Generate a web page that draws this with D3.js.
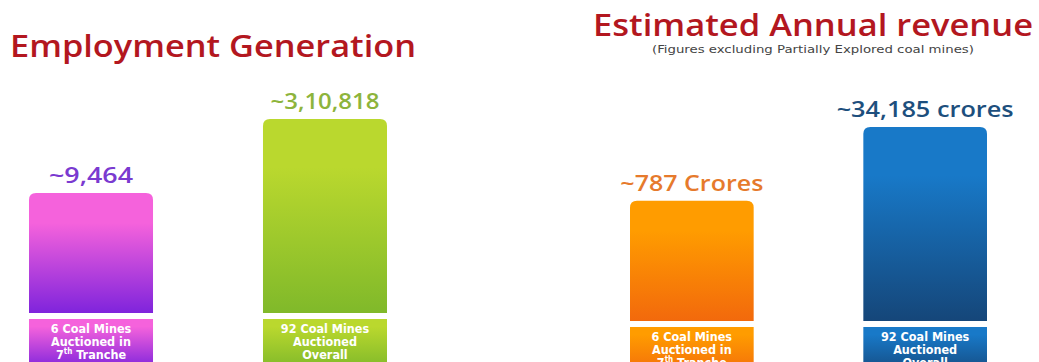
<!DOCTYPE html>
<html>
<head>
<meta charset="utf-8">
<script src="https://cdn.jsdelivr.net/npm/d3@7"></script>
<style>
  html, body { margin: 0; padding: 0; background: #ffffff; }
  svg { display: block; }
  text { font-family: "DejaVu Sans Condensed", "DejaVu Sans", sans-serif; }
  .heavy { font-family: "Open Sans", "DejaVu Sans", sans-serif; font-weight: 600; }
</style>
</head>
<body>
<svg id="chart" width="1039" height="362"></svg>
<script>
// ---- data ----
const categories = ["7th Tranche", "Overall"];
const categoryLines = [
  ["6 Coal Mines", "Auctioned in", "7|th| Tranche"],
  ["92 Coal Mines", "Auctioned", "Overall"]
];
const employmentValues = [9464, 310818];
const employmentLabels = ["~9,464", "~3,10,818"];
const revenueValues = [787, 34185];
const revenueLabels = ["~787 Crores", "~34,185 crores"];
const titles = ["Employment Generation", "Estimated Annual revenue"];
const subtitle = "(Figures excluding Partially Explored coal mines)";

// ---- styles ----
const employmentColors = [
  { top: "#f562dc", bottom: "#7f24dc", label: "#7a3ad0" },
  { top: "#bad82e", bottom: "#80b92a", label: "#8db43c" }
];
const revenueColors = [
  { top: "#ff9c00", bottom: "#f2690c", label: "#e67a2c" },
  { top: "#1879c8", bottom: "#154679", label: "#1d4f7d" }
];
const employmentLabelWidths = [84, 109];
const revenueLabelWidths = [143, 177];

const svg = d3.select("#chart");
const defs = svg.append("defs");

function topRoundedRect(x, y, w, h, r) {
  return `M${x},${y + h} L${x},${y + r} Q${x},${y} ${x + r},${y} L${x + w - r},${y} Q${x + w},${y} ${x + w},${y + r} L${x + w},${y + h} Z`;
}

function grad(id, top, bottom, y1, y2) {
  const g = defs.append("linearGradient").attr("id", id)
    .attr("x1", 0).attr("y1", 0).attr("x2", 0).attr("y2", 1);
  g.append("stop").attr("offset", y1).attr("stop-color", top);
  g.append("stop").attr("offset", y2).attr("stop-color", bottom);
}

function panel(opts) {
  const x = d3.scaleBand().domain(categories).range(opts.xRange).paddingInner(0.47);
  const y = d3.scaleLog().domain(opts.yDomain).range([opts.base, opts.top]);
  const g = svg.append("g");

  opts.values.forEach((v, i) => {
    const c = opts.colors[i];
    const id = opts.key + i;
    grad(id + "b", c.top, c.bottom, 0.25, 1);
    grad(id + "l", c.top, c.bottom, 0.15, 1);
    const bx = x(categories[i]), bw = x.bandwidth();
    const by = y(v);
    g.append("path")
      .attr("d", topRoundedRect(bx, by, bw, opts.base - by, 7))
      .attr("fill", `url(#${id}b)`);
    g.append("text")
      .attr("class", "heavy")
      .attr("x", bx + bw / 2).attr("y", by - 10)
      .attr("text-anchor", "middle")
      .attr("font-size", 21)
      .attr("textLength", opts.widths[i]).attr("lengthAdjust", "spacingAndGlyphs")
      .attr("fill", c.label)
      .text(opts.labels[i]);
    // category box
    const ly = opts.base + 6;
    g.append("rect")
      .attr("x", bx).attr("y", ly).attr("width", bw).attr("height", 50)
      .attr("fill", `url(#${id}l)`);
    categoryLines[i].forEach((line, k) => {
      const t = g.append("text")
        .attr("x", bx + bw / 2).attr("y", ly + 14 + k * 13)
        .attr("text-anchor", "middle")
        .attr("font-size", 12.5).attr("font-weight", "bold")
        .attr("fill", "#ffffff");
      const parts = line.split("|");
      if (parts.length === 3) {
        t.append("tspan").text(parts[0]);
        t.append("tspan").attr("font-size", 8).attr("dy", -5).text(parts[1]);
        t.append("tspan").attr("dy", 5).text(parts[2]);
      } else {
        t.text(line);
      }
    });
  });
}

// titles
svg.append("text")
  .attr("class", "heavy")
  .attr("x", 10).attr("y", 57)
  .attr("font-size", 30)
  .attr("fill", "#b3171f")
  .attr("textLength", 406).attr("lengthAdjust", "spacingAndGlyphs")
  .text(titles[0]);
svg.append("text")
  .attr("class", "heavy")
  .attr("x", 593).attr("y", 36)
  .attr("font-size", 30)
  .attr("fill", "#b3171f")
  .attr("textLength", 440).attr("lengthAdjust", "spacingAndGlyphs")
  .text(titles[1]);
svg.append("text")
  .attr("x", 813).attr("y", 53)
  .attr("text-anchor", "middle")
  .attr("font-size", 10)
  .attr("fill", "#444444")
  .attr("textLength", 322).attr("lengthAdjust", "spacingAndGlyphs")
  .text(subtitle);

panel({
  key: "emp", values: employmentValues, labels: employmentLabels, colors: employmentColors,
  widths: employmentLabelWidths,
  xRange: [29, 387], yDomain: [33, 310818], base: 313, top: 119
});
panel({
  key: "rev", values: revenueValues, labels: revenueLabels, colors: revenueColors,
  widths: revenueLabelWidths,
  xRange: [630, 987], yDomain: [1.66, 34185], base: 321, top: 127
});
</script>
</body>
</html>
